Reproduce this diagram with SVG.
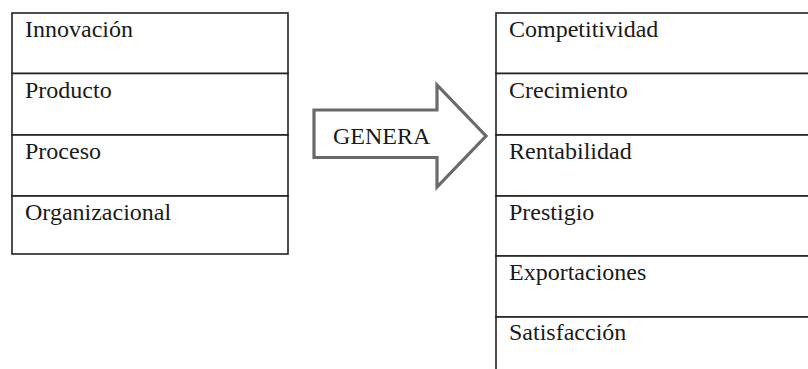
<svg xmlns="http://www.w3.org/2000/svg" width="808" height="369" viewBox="0 0 808 369" font-family="Liberation Serif, Times New Roman, serif" font-size="24">
<style>
.cell{fill:#fff;stroke:#222;stroke-width:1.6}
text{fill:#1a1a1a}
.arrow{fill:#fff;stroke:#6a6a6a;stroke-width:3.2;stroke-linejoin:miter}
</style>
<rect width="808" height="369" fill="#fff"/>
<g id="left-table">
<g id="n-innovacion"><rect class="cell" x="12" y="13" width="276" height="60.5"/><text x="25" y="36.5" font-family="Liberation Serif">Innovación</text></g>
<g id="n-producto"><rect class="cell" x="12" y="73.5" width="276" height="61.5"/><text x="25" y="98" font-family="Liberation Serif">Producto</text></g>
<g id="n-proceso"><rect class="cell" x="12" y="135" width="276" height="61"/><text x="25" y="159" font-family="Liberation Serif">Proceso</text></g>
<g id="n-organizacional"><rect class="cell" x="12" y="196" width="276" height="58"/><text x="25" y="219.5" font-family="Liberation Serif">Organizacional</text></g>
</g>
<g id="connectors">
<g id="arrow-genera"><path class="arrow" d="M314,110 L437,110 L437,85 L486,136 L437,187 L437,157.5 L314,157.5 Z"/><text x="333" y="143.5" font-family="Liberation Serif">GENERA</text></g>
</g>
<g id="right-table">
<g id="n-competitividad"><rect class="cell" x="496" y="13" width="320" height="60.5"/><text x="509" y="36.5" font-family="Liberation Serif">Competitividad</text></g>
<g id="n-crecimiento"><rect class="cell" x="496" y="73.5" width="320" height="61.5"/><text x="509" y="98" font-family="Liberation Serif">Crecimiento</text></g>
<g id="n-rentabilidad"><rect class="cell" x="496" y="135" width="320" height="61"/><text x="509" y="158.5" font-family="Liberation Serif">Rentabilidad</text></g>
<g id="n-prestigio"><rect class="cell" x="496" y="196" width="320" height="60"/><text x="509" y="219.5" font-family="Liberation Serif">Prestigio</text></g>
<g id="n-exportaciones"><rect class="cell" x="496" y="256" width="320" height="61"/><text x="509" y="279.5" font-family="Liberation Serif">Exportaciones</text></g>
<g id="n-satisfaccion"><rect class="cell" x="496" y="317" width="320" height="60"/><text x="509" y="340" font-family="Liberation Serif">Satisfacción</text></g>
</g>
</svg>
